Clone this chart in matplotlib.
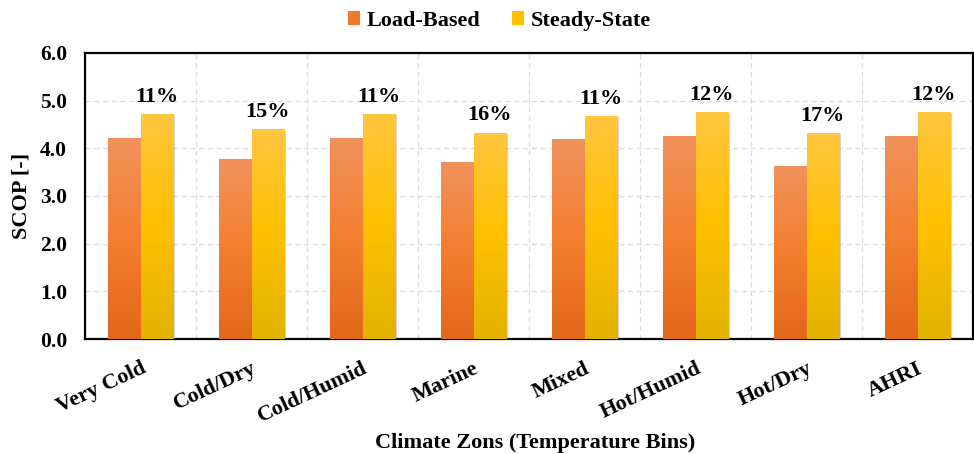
import matplotlib.pyplot as plt
import matplotlib.patheffects as pe
import numpy as np
from matplotlib.colors import LinearSegmentedColormap
from matplotlib.patches import Patch

plt.rcParams['font.family'] = ['Liberation Serif', 'DejaVu Serif']
plt.rcParams['font.weight'] = 'bold'

zones = ['Very Cold', 'Cold/Dry', 'Cold/Humid', 'Marine', 'Mixed',
         'Hot/Humid', 'Hot/Dry', 'AHRI']
load_based = [4.21, 3.77, 4.21, 3.71, 4.19, 4.26, 3.63, 4.26]
steady_state = [4.72, 4.40, 4.72, 4.33, 4.68, 4.76, 4.32, 4.76]
pct_labels = ['11%', '15%', '11%', '16%', '11%', '12%', '17%', '12%']

# vertical gradients, bottom -> middle -> top
orange_cm = LinearSegmentedColormap.from_list('lb', ['#E2671A', '#F47E2E', '#F0925C'])
yellow_cm = LinearSegmentedColormap.from_list('ss', ['#E2B200', '#FFC000', '#FFC63F'])

fig = plt.figure(figsize=(9.74, 4.54), dpi=100)
ax = fig.add_axes([0.0873, 0.2533, 0.9117, 0.63])

x = np.arange(len(zones))
w = 0.29
grad = np.linspace(0, 1, 256).reshape(-1, 1)


def gradient_bars(xs, heights, cmap):
    bars = ax.bar(xs, heights, w, color=cmap(0.5), zorder=3,
                  path_effects=[pe.SimplePatchShadow(offset=(2, -1), alpha=0.25, shadow_rgbFace='#555555'),
                                pe.Normal()])
    for b in bars:
        bx, by = b.get_x(), b.get_y()
        im = ax.imshow(grad, cmap=cmap, aspect='auto', origin='lower',
                       extent=[bx, bx + b.get_width(), by, by + b.get_height()],
                       zorder=4)
        im.set_clip_path(b)
    return bars


gradient_bars(x - w / 2, load_based, orange_cm)
gradient_bars(x + w / 2, steady_state, yellow_cm)

for xi, h, t in zip(x, steady_state, pct_labels):
    ax.text(xi + w / 2, h + 0.15, t, ha='center', va='bottom',
            fontsize=16, fontweight='bold', zorder=5)

ax.set_xlim(-0.5, len(zones) - 0.5)
ax.set_ylim(0, 6)
ax.set_yticks(np.arange(0, 6.01, 1.0))
ax.set_yticklabels([f'{v:.1f}' for v in np.arange(0, 6.01, 1.0)], fontsize=15.5)
ax.set_xticks(x)
ax.set_xticklabels(zones, rotation=25, ha='right', rotation_mode='anchor', fontsize=16)
ax.tick_params(axis='y', length=0, pad=13)
ax.tick_params(axis='x', length=0, pad=14)

# dashed grid: horizontal at each unit, vertical between groups
ax.set_xticks(np.arange(0.5, len(zones) - 0.5), minor=True)
ax.grid(axis='y', which='major', ls=(0, (4, 3)), color='#D9D9D9', lw=0.9, zorder=0)
ax.grid(axis='x', which='minor', ls=(0, (4, 3)), color='#D9D9D9', lw=0.9, zorder=0)
ax.tick_params(which='minor', length=0)

for s in ax.spines.values():
    s.set_linewidth(1.6)
    s.set_color('black')

ax.set_ylabel('SCOP [-]', fontsize=16, fontweight='bold', labelpad=6)
ax.set_xlabel('Climate Zons (Temperature Bins)', fontsize=16, fontweight='bold')
ax.xaxis.set_label_coords(0.507, -0.33)

handles = [Patch(facecolor='#F07A2C', label='Load-Based'),
           Patch(facecolor='#FFC000', label='Steady-State')]
fig.legend(handles=handles, loc='upper center', bbox_to_anchor=(0.513, 1.02), ncol=2,
           frameon=False, fontsize=16, handlelength=0.55, handleheight=0.55,
           handletextpad=0.3, columnspacing=1.4)

fig.savefig('out.png', dpi=100)
